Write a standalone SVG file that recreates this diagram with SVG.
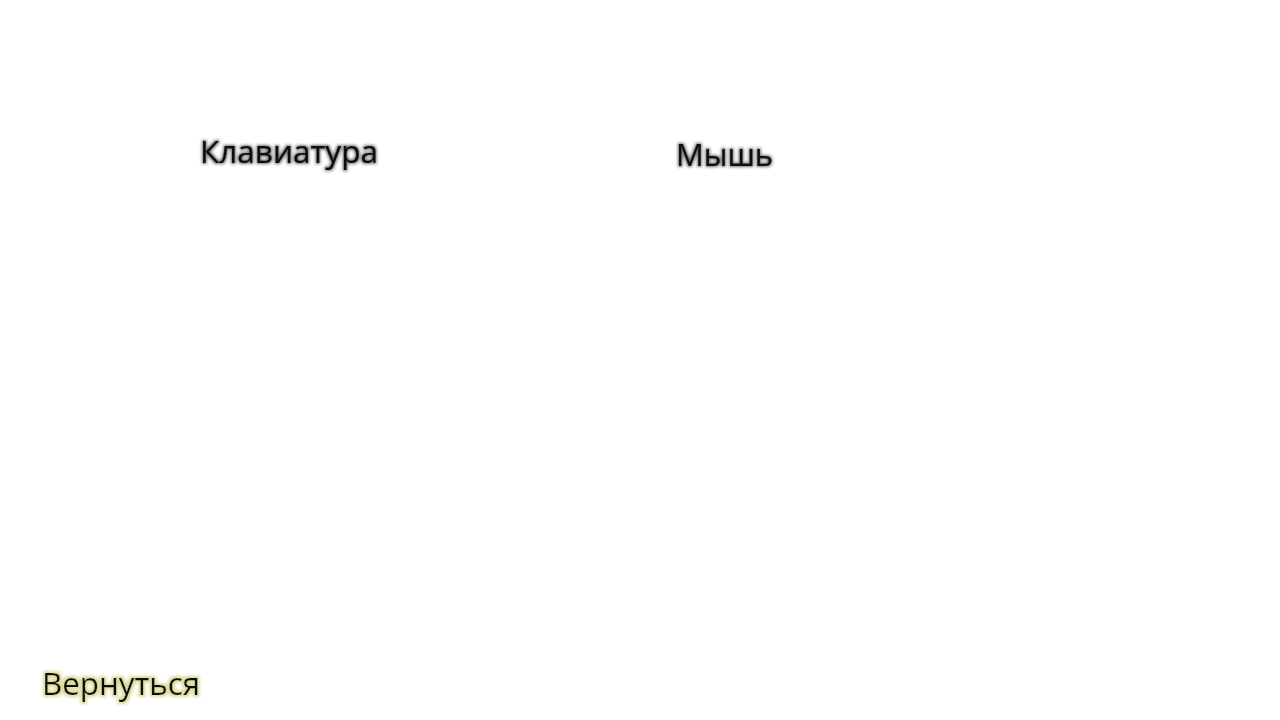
<svg xmlns="http://www.w3.org/2000/svg" width="1280" height="720" viewBox="0 0 1280 720">
<defs>
<filter id="glowDark" x="-10%" y="-30%" width="120%" height="160%">
<feMorphology in="SourceAlpha" operator="dilate" radius="1" result="d"/>
<feGaussianBlur in="d" stdDeviation="1.5" result="b"/>
<feFlood flood-color="#000" flood-opacity="0.55"/>
<feComposite in2="b" operator="in" result="g"/>
<feMerge><feMergeNode in="g"/><feMergeNode in="SourceGraphic"/></feMerge>
</filter>
<filter id="glowYellow" x="-10%" y="-30%" width="120%" height="160%">
<feMorphology in="SourceAlpha" operator="dilate" radius="1.5" result="d"/>
<feGaussianBlur in="d" stdDeviation="1.8" result="b"/>
<feFlood flood-color="#d8d690" flood-opacity="0.9"/>
<feComposite in2="b" operator="in" result="g"/>
<feMerge><feMergeNode in="g"/><feMergeNode in="SourceGraphic"/></feMerge>
</filter>
</defs>
<style>
.t{font-family:"Open Sans","Noto Sans","DejaVu Sans",sans-serif;font-size:31px;fill:#111;stroke:#111;stroke-width:0.15}
</style>
<rect width="1280" height="720" fill="#fff"/>
<g id="keyboard"><text class="t" x="200" y="163" filter="url(#glowDark)" textLength="178" lengthAdjust="spacingAndGlyphs">Клавиатура</text></g>
<g id="mouse"><text class="t" x="676" y="166" filter="url(#glowDark)" textLength="97" lengthAdjust="spacingAndGlyphs">Мышь</text></g>
<g id="back"><text class="t" x="42" y="695" filter="url(#glowYellow)" textLength="158" lengthAdjust="spacingAndGlyphs">Вернуться</text></g>
<g id="connectors"/>
</svg>
